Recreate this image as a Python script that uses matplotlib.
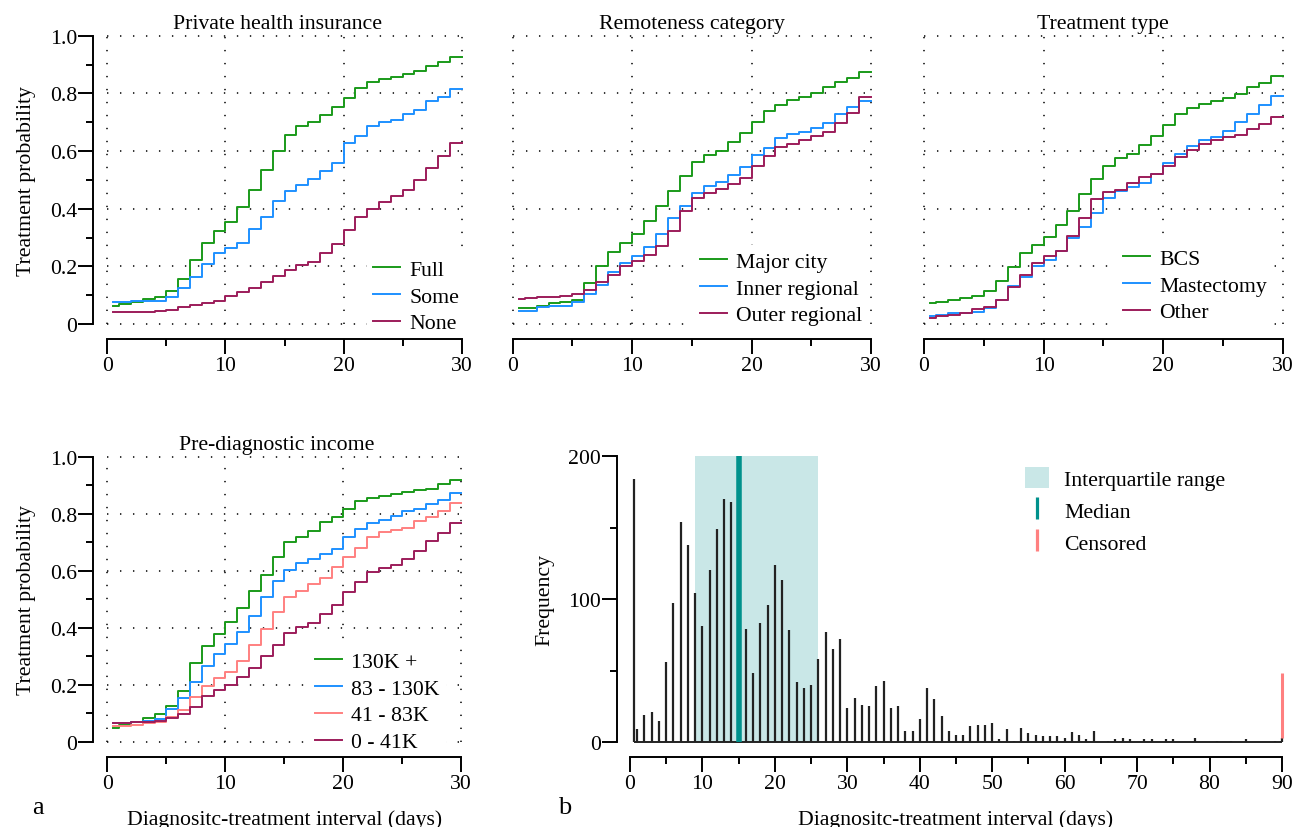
import matplotlib
matplotlib.use("Agg")
import matplotlib.pyplot as plt
import matplotlib.transforms as mtrans
from matplotlib.lines import Line2D
from matplotlib.patches import Patch

plt.rcParams['font.family'] = ['Liberation Serif', 'DejaVu Serif']
plt.rcParams['font.size'] = 15.7

# step curves: probability on [day, next day), first interval starts at 0.5
days = [0.5] + list(range(1, 30))

phi_labels = ["Full", "Some", "None"]
phi_full = [0.062, 0.068, 0.077, 0.087, 0.092, 0.116, 0.156, 0.223, 0.281, 0.324,
            0.355, 0.405, 0.466, 0.533, 0.600, 0.657, 0.686, 0.702, 0.726, 0.754,
            0.784, 0.817, 0.840, 0.850, 0.858, 0.866, 0.879, 0.895, 0.910, 0.925]
phi_some = [0.077, 0.077, 0.079, 0.081, 0.081, 0.095, 0.126, 0.162, 0.207, 0.246,
            0.265, 0.281, 0.329, 0.370, 0.428, 0.461, 0.483, 0.503, 0.529, 0.557,
            0.627, 0.653, 0.688, 0.702, 0.709, 0.728, 0.742, 0.775, 0.788, 0.815]
phi_none = [0.042, 0.042, 0.042, 0.042, 0.044, 0.050, 0.058, 0.066, 0.073, 0.081,
            0.098, 0.110, 0.126, 0.147, 0.168, 0.188, 0.205, 0.216, 0.245, 0.277,
            0.327, 0.372, 0.399, 0.424, 0.445, 0.465, 0.499, 0.540, 0.581, 0.628]

rem_labels = ["Major city", "Inner regional", "Outer regional"]
rem_major = [0.055, 0.055, 0.064, 0.073, 0.078, 0.083, 0.141, 0.202, 0.249, 0.282,
             0.312, 0.356, 0.409, 0.462, 0.514, 0.561, 0.585, 0.601, 0.630, 0.664,
             0.701, 0.740, 0.761, 0.776, 0.787, 0.801, 0.821, 0.840, 0.854, 0.875]
rem_inner = [0.046, 0.046, 0.058, 0.061, 0.064, 0.077, 0.104, 0.135, 0.179, 0.212,
             0.235, 0.267, 0.311, 0.368, 0.410, 0.453, 0.480, 0.494, 0.517, 0.546,
             0.586, 0.612, 0.646, 0.659, 0.667, 0.681, 0.698, 0.727, 0.754, 0.775]
rem_outer = [0.087, 0.089, 0.092, 0.095, 0.097, 0.104, 0.119, 0.145, 0.171, 0.202,
             0.220, 0.239, 0.272, 0.321, 0.393, 0.436, 0.454, 0.469, 0.487, 0.506,
             0.549, 0.584, 0.613, 0.624, 0.639, 0.653, 0.665, 0.697, 0.733, 0.788]

trt_labels = ["BCS", "Mastectomy", "Other"]
trt_bcs = [0.074, 0.075, 0.082, 0.091, 0.098, 0.116, 0.148, 0.197, 0.245, 0.275,
           0.302, 0.343, 0.393, 0.450, 0.503, 0.549, 0.575, 0.590, 0.621, 0.652,
           0.690, 0.727, 0.750, 0.762, 0.775, 0.785, 0.798, 0.821, 0.836, 0.859]
trt_mast = [0.029, 0.032, 0.037, 0.039, 0.042, 0.054, 0.083, 0.131, 0.164, 0.200,
            0.223, 0.254, 0.297, 0.338, 0.385, 0.436, 0.460, 0.474, 0.489, 0.520,
            0.558, 0.590, 0.618, 0.638, 0.647, 0.669, 0.699, 0.729, 0.761, 0.792]
trt_other = [0.020, 0.027, 0.032, 0.038, 0.051, 0.058, 0.083, 0.127, 0.171, 0.210,
             0.235, 0.254, 0.305, 0.369, 0.434, 0.459, 0.465, 0.490, 0.509, 0.521,
             0.549, 0.579, 0.605, 0.623, 0.638, 0.649, 0.655, 0.675, 0.695, 0.719]

inc_labels = ["130K +", "83 - 130K", "41 - 83K", "0 - 41K"]
inc_130 = [0.047, 0.058, 0.070, 0.084, 0.097, 0.126, 0.179, 0.276, 0.335, 0.377,
           0.419, 0.470, 0.530, 0.585, 0.649, 0.702, 0.720, 0.740, 0.771, 0.789,
           0.816, 0.846, 0.855, 0.863, 0.868, 0.875, 0.882, 0.888, 0.904, 0.919]
inc_83 = [0.064, 0.064, 0.070, 0.074, 0.080, 0.115, 0.152, 0.211, 0.265, 0.308,
          0.343, 0.384, 0.442, 0.509, 0.565, 0.604, 0.627, 0.641, 0.658, 0.676,
          0.717, 0.748, 0.767, 0.777, 0.792, 0.808, 0.816, 0.834, 0.848, 0.872]
inc_41 = [0.056, 0.056, 0.058, 0.065, 0.070, 0.085, 0.112, 0.156, 0.196, 0.223,
          0.243, 0.284, 0.339, 0.395, 0.454, 0.509, 0.530, 0.552, 0.574, 0.613,
          0.647, 0.678, 0.719, 0.735, 0.742, 0.751, 0.774, 0.787, 0.811, 0.839]
inc_0 = [0.064, 0.064, 0.068, 0.070, 0.074, 0.082, 0.097, 0.123, 0.159, 0.181,
         0.199, 0.226, 0.257, 0.299, 0.339, 0.380, 0.401, 0.415, 0.449, 0.481,
         0.524, 0.561, 0.596, 0.608, 0.621, 0.641, 0.670, 0.703, 0.732, 0.766]

# histogram of intervals
hist_days = [0.5] + list(range(1, 91))
hist_counts = [184,
               9, 19, 21, 15, 56, 97, 154, 138, 104, 81,
               120, 149, 170, 168, 150, 79, 48, 83, 96, 124,
               113, 78, 42, 38, 40, 58, 77, 65, 72, 24,
               31, 26, 25, 39, 43, 24, 25, 8, 8, 16,
               38, 30, 18, 8, 5, 5, 11, 12, 12, 13,
               2, 9, 1, 10, 6, 5, 4, 4, 4, 3,
               7, 5, 2, 8, 0, 1, 2, 3, 2, 0,
               2, 2, 0, 2, 2, 0, 0, 3, 0, 0,
               1, 0, 1, 0, 2, 0, 0, 0, 1, 3]
q1, median, q3 = 9, 15, 26
censored_day = 90
censored_n = 45

green = '#1a9a1a'
blue = '#1e90ff'
salmon = '#ff8080'
purple = '#9c1c5a'
teal = '#00918c'
iqr_col = '#c9e7e7'
bar_col = '#222222'

W, H = 1302, 828
fig = plt.figure(figsize=(W / 100, H / 100), dpi=100)


def add_panel(x0, x1, y1, y0, xr=(0, 30), xlim=(-1.2, 31.2), yr=(0, 1), ylim=(-0.04, 1.04)):
    # x0/x1: pixel of xr ends, y1/y0: pixel of yr top/bottom
    sx = (x1 - x0) / (xr[1] - xr[0])
    sy = (y0 - y1) / (yr[1] - yr[0])
    left = x0 + (xlim[0] - xr[0]) * sx
    right = x0 + (xlim[1] - xr[0]) * sx
    top = y1 - (ylim[1] - yr[1]) * sy
    bottom = y0 + (yr[0] - ylim[0]) * sy
    ax = fig.add_axes([left / W, 1 - bottom / H, (right - left) / W, (bottom - top) / H])
    ax.set_xlim(xlim)
    ax.set_ylim(ylim)
    ax.patch.set_alpha(0)
    for s in ['top', 'right']:
        ax.spines[s].set_visible(False)
    ax.spines['bottom'].set_position(('outward', 2.5))
    ax.spines['bottom'].set_bounds(xr[0], xr[1])
    ax.spines['left'].set_bounds(yr[0], yr[1])
    for s in ['left', 'bottom']:
        ax.spines[s].set_linewidth(1.4)
    ax.tick_params(which='major', length=10.5, width=1.4, pad=1)
    ax.tick_params(which='minor', length=5, width=1.4)
    ax.tick_params(axis='x', which='major', pad=2)
    return ax


def bottom_label(ax, text):
    ax.set_xlabel(text)
    ax.xaxis.label.set_va('baseline')
    ax.xaxis.set_label_coords(0.5, 1 - 825 / H,
                              transform=mtrans.blended_transform_factory(ax.transAxes, fig.transFigure))


def km_panel(ax, title, series, colors, labels, show_y, leg_xy, title_x=0.5):
    ax.hlines([0, 0.2, 0.4, 0.6, 0.8, 1.0], 0, 30, colors='black', lw=1.1,
              linestyles=(0, (0.9, 7.6)), zorder=0)
    ax.vlines([0, 10, 20, 30], 0, 1, colors='black', lw=1.1,
              linestyles=(0, (0.9, 7.6)), zorder=0)
    for vals, c, lab in zip(series, colors, labels):
        ax.plot(days + [30], vals + [vals[-1]], drawstyle='steps-post', color=c, lw=1.4, label=lab)
    ax.set_xticks([0, 10, 20, 30])
    ax.set_xticks([5, 15, 25], minor=True)
    ax.set_xticklabels(['0', '10', '20', '30'])
    if show_y:
        ax.set_yticks([0, 0.2, 0.4, 0.6, 0.8, 1.0])
        ax.set_yticks([0.1, 0.3, 0.5, 0.7, 0.9], minor=True)
        ax.set_yticklabels(['0', '0.2', '0.4', '0.6', '0.8', '1.0'])
        ax.set_ylabel('Treatment probability', labelpad=10)
    else:
        ax.spines['left'].set_visible(False)
        ax.set_yticks([])
    tr = mtrans.blended_transform_factory(ax.transAxes, ax.transData)
    ax.text(title_x, 1.028, title, transform=tr, ha='center', va='baseline')
    leg = ax.legend(loc='upper left', bbox_to_anchor=leg_xy, bbox_transform=fig.transFigure,
                    frameon=True, fancybox=False, framealpha=1, edgecolor='none',
                    facecolor='white', handlelength=1.25, handletextpad=0.42,
                    labelspacing=0.3, borderpad=0.3, borderaxespad=0)
    leg.set_zorder(1)
    return ax


ax1 = add_panel(107.3, 461.7, 36.7, 325)
km_panel(ax1, 'Private health insurance', [phi_full, phi_some, phi_none],
         [green, blue, purple], phi_labels, True, (366.5 / W, 1 - 254 / H), title_x=0.481)

ax2 = add_panel(512.7, 871, 36.7, 325)
km_panel(ax2, 'Remoteness category', [rem_major, rem_inner, rem_outer],
         [green, blue, purple], rem_labels, False, (693.5 / W, 1 - 246 / H))

ax3 = add_panel(924, 1282.7, 36.7, 325)
km_panel(ax3, 'Treatment type', [trt_bcs, trt_mast, trt_other],
         [green, blue, purple], trt_labels, False, (1116.5 / W, 1 - 243 / H))

ax4 = add_panel(107.3, 461.3, 457.7, 742.7)
km_panel(ax4, 'Pre-diagnostic income', [inc_130, inc_83, inc_41, inc_0],
         [green, blue, salmon, purple], inc_labels, True, (308.5 / W, 1 - 646 / H), title_x=0.481)
bottom_label(ax4, 'Diagnositc-treatment interval (days)')

# histogram panel
ax5 = add_panel(630, 1282, 457, 743, xr=(0, 90), xlim=(-1.8, 91.8), yr=(0, 200), ylim=(-8, 208))
ax5.fill_betweenx([0, 200], q1, q3, color=iqr_col, lw=0, zorder=1)
ax5.vlines(hist_days, 0, hist_counts, colors=bar_col, lw=1.6, zorder=2)
ax5.hlines(0, hist_days[0], hist_days[-1], colors=bar_col, lw=1.4, zorder=2)
ax5.vlines(median, 0, 200, colors=teal, lw=4, zorder=3)
ax5.vlines(censored_day, hist_counts[-1], hist_counts[-1] + censored_n, colors=salmon, lw=2.2, zorder=3)
ax5.set_xticks(list(range(0, 91, 10)))
ax5.set_xticks(list(range(5, 90, 10)), minor=True)
ax5.set_yticks([0, 100, 200])
ax5.set_yticks([50, 150], minor=True)
ax5.set_ylabel('Frequency', labelpad=10)
bottom_label(ax5, 'Diagnositc-treatment interval (days)')
handles = [Patch(facecolor=iqr_col, edgecolor='none'),
           Line2D([], [], marker='|', ms=16, mew=2.3, color=teal, ls='none'),
           Line2D([], [], marker='|', ms=16, mew=2.3, color=salmon, ls='none')]
ax5.legend(handles, ['Interquartile range', 'Median', 'Censored'], loc='upper left',
           bbox_to_anchor=(1021 / W, 1 - 464 / H), bbox_transform=fig.transFigure,
           frameon=False, handlelength=1.07, handleheight=1.07, handletextpad=0.7,
           labelspacing=0.42, borderpad=0.2, borderaxespad=0)

fig.text(32 / W, 1 - 814 / H, 'a', fontsize=19, ha='left', va='baseline')
fig.text(558 / W, 1 - 814 / H, 'b', fontsize=19, ha='left', va='baseline')

fig.savefig('out.png', dpi=100)
